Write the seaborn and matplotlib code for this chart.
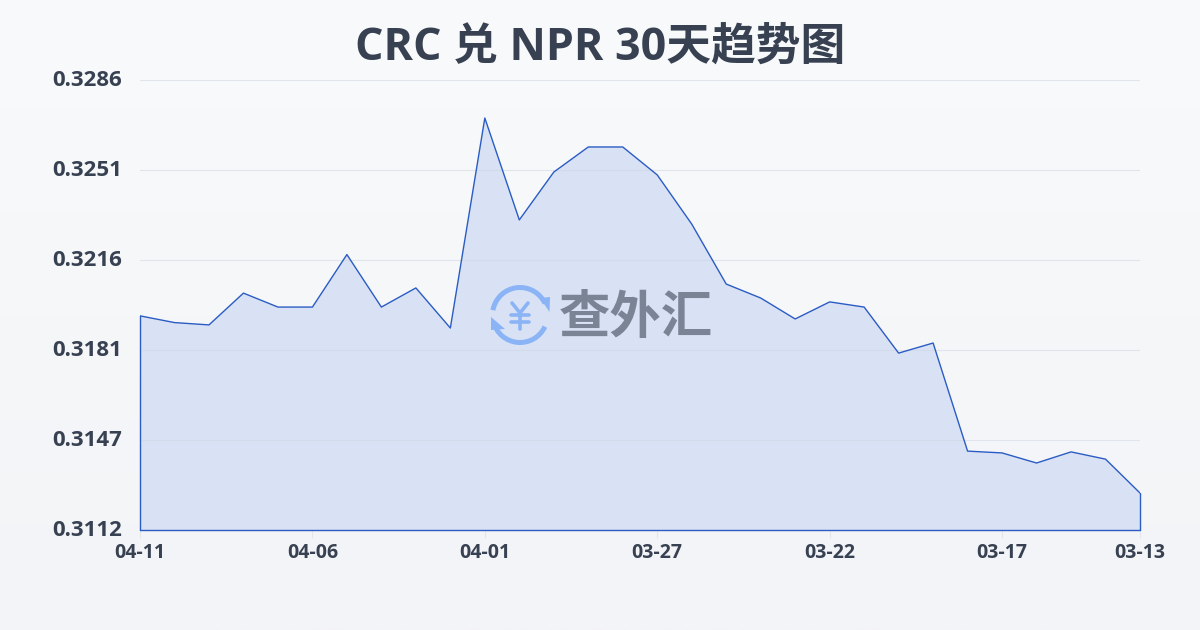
import matplotlib
matplotlib.use("Agg")
import matplotlib.pyplot as plt
from matplotlib.patches import Arc, Polygon
from matplotlib.transforms import ScaledTranslation
import numpy as np
import pandas as pd
import seaborn as sns

# CRC / NPR rate, newest first
rates = [0.31948, 0.31922, 0.31913, 0.32036, 0.31982, 0.31982, 0.32185, 0.31982,
         0.32056, 0.31901, 0.32713, 0.32319, 0.32504, 0.32601, 0.32601, 0.32493,
         0.32303, 0.32071, 0.32017, 0.31936, 0.32002, 0.31982, 0.31804, 0.31843,
         0.31425, 0.31418, 0.31379, 0.31422, 0.31394, 0.31263]
tick_pos = [0, 5, 10, 15, 20, 25, 29]
tick_labels = ["04-11", "04-06", "04-01", "03-27", "03-22", "03-17", "03-13"]
ytick_vals = [0.3112, 0.31468, 0.31816, 0.32164, 0.32512, 0.3286]
ytick_labels = ["0.3112", "0.3147", "0.3181", "0.3216", "0.3251", "0.3286"]
title = "CRC 兑 NPR 30天趋势图"

df = pd.DataFrame({"day": range(len(rates)), "rate": rates})

sns.set_theme(style="white")
plt.rcParams["font.family"] = ["Open Sans", "Noto Sans CJK SC", "DejaVu Sans"]

W, H = 1200, 630
fig = plt.figure(figsize=(12, 6.3), dpi=100)

# page background, slight vertical gradient
bg = fig.add_axes([0, 0, 1, 1], zorder=0)
bg.imshow(np.linspace(0, 1, 256).reshape(-1, 1), aspect="auto", extent=[0, 1, 0, 1],
          cmap=matplotlib.colors.LinearSegmentedColormap.from_list("bg", ["#f8fafb", "#f3f4f7"]))
bg.axis("off")

ax = fig.add_axes([140 / W, 1 - 530 / H, 1000 / W, 450 / H], zorder=1)
ax.patch.set_alpha(0)

line_color = "#2b5cc4"
ax.fill_between(df["day"], df["rate"], ytick_vals[0], facecolor="#d9e2f5", edgecolor="none", zorder=1)
sns.lineplot(data=df, x="day", y="rate", ax=ax, color=line_color, linewidth=1.0, zorder=3)
ax.plot([0, 0], [ytick_vals[0], rates[0]], color=line_color, lw=1.0, zorder=3, clip_on=False)
ax.plot([29, 29], [ytick_vals[0], rates[-1]], color=line_color, lw=1.0, zorder=3, clip_on=False)
ax.plot([0, 29], [ytick_vals[0], ytick_vals[0]], color=line_color, lw=1.0, zorder=3, clip_on=False)

ax.set_xlim(0, 29)
ax.set_ylim(ytick_vals[0], ytick_vals[-1])
ax.set_xlabel("")
ax.set_ylabel("")
for side in ax.spines:
    ax.spines[side].set_visible(False)

ax.set_yticks(ytick_vals)
ax.set_yticklabels(ytick_labels, fontsize=16, fontweight="bold", color="#374151")
ax.set_xticks(tick_pos)
ax.set_xticklabels(tick_labels, fontsize=14, fontweight="bold", color="#374151")
ax.tick_params(axis="y", length=0, pad=13)
ax.tick_params(axis="x", length=6, width=0.8, color="#e2e5ea", pad=3, bottom=True)
# y labels sit a touch above their grid lines
shift = ScaledTranslation(0, 2 / 100, fig.dpi_scale_trans)
for lab in ax.get_yticklabels():
    lab.set_transform(lab.get_transform() + shift)
ax.yaxis.grid(True, color="#cfd6e4", alpha=0.55, lw=0.8, zorder=2)
ax.set_axisbelow(False)
for gl in ax.get_ygridlines():
    gl.set_zorder(2)

fig.text(600 / W, 1 - 48 / H, title, ha="center", va="center", fontsize=32.2,
         fontweight="bold", color="#374151")

# watermark, drawn in pixel coordinates of the image
wm = fig.add_axes([0, 0, 1, 1], zorder=5)
wm.set_xlim(0, W)
wm.set_ylim(H, 0)
wm.axis("off")
blue = "#8ab4f5"
# ylim is inverted, so arc angles run clockwise on screen
wm.add_patch(Arc((520, 315), 55, 55, theta1=190, theta2=335, color=blue, lw=3.6))
wm.add_patch(Arc((520, 315), 55, 55, theta1=25, theta2=165, color=blue, lw=3.6))
wm.add_patch(Polygon([(540, 298), (550, 297), (549.5, 312)], color=blue, lw=0))
wm.add_patch(Polygon([(491, 317), (505, 329), (491, 330)], color=blue, lw=0))
for xs, ys in [([512, 520, 528], [303, 313, 303]), ([520, 520], [313, 329]),
               ([511, 529], [315, 315]), ([511, 529], [322, 322])]:
    wm.plot(xs, ys, color=blue, lw=2.6, solid_capstyle="round")
wm.text(636, 320, "查外汇", ha="center", va="center", fontsize=37, fontweight="bold", color="#7a8494")

fig.savefig("out.png", dpi=100)
